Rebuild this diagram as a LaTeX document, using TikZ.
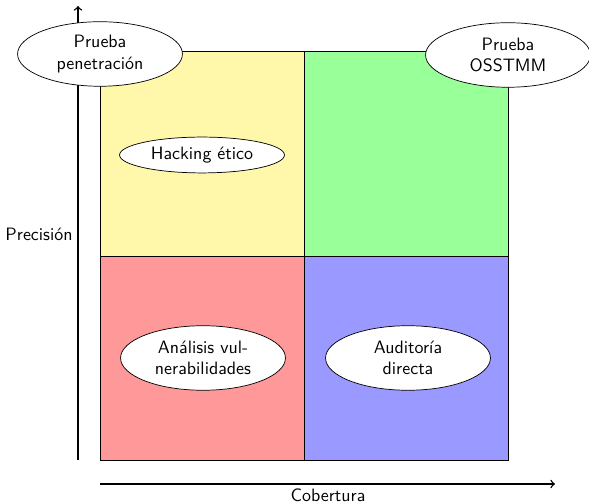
\documentclass[tikz,border=0pt]{standalone}
\usetikzlibrary{shapes.geometric}
\definecolor{qyellow}{RGB}{255,247,170}
\definecolor{qgreen}{RGB}{153,255,153}
\definecolor{qred}{RGB}{255,153,153}
\definecolor{qblue}{RGB}{153,153,255}
\tikzset{
  quad/.style={draw=black},
  oval/.style={ellipse, draw=black, fill=white, inner sep=0pt, align=center,
    font=\sffamily, minimum width=92pt},
  oval2/.style={oval, minimum height=36pt},
  oval1/.style={oval, minimum height=20pt},
  axis/.style={thick, ->},
  lbl/.style={font=\sffamily}
}
\begin{document}
\begin{tikzpicture}[x=0.5579pt, y=-0.5579pt]
\useasboundingbox (0,0) rectangle (589,504);
% quadrants
\draw[quad, fill=qyellow] (100,51) rectangle (304,256);
\draw[quad, fill=qgreen] (304,51) rectangle (508,256);
\draw[quad, fill=qred] (100,256) rectangle (304,460);
\draw[quad, fill=qblue] (304,256) rectangle (508,460);
% axes
\coordinate (ybot) at (78,460);
\coordinate (ytop) at (78,6);
\coordinate (xl) at (100,484);
\coordinate (xr) at (555,484);
\draw[axis] (ybot) -- (ytop);
\draw[axis] (xl) -- (xr);
\node[lbl] (prec) at (39,234) {Precisión};
\node[lbl] (cob) at (328,495) {Cobertura};
% ellipses
\node[oval2] (pen) at (100,54) {Prueba\\penetración};
\node[oval2] (oss) at (508,55) {Prueba\\OSSTMM};
\node[oval1] (hack) at (202,155) {Hacking ético};
\node[oval2] (vul) at (203,358) {Análisis vul-\\nerabilidades};
\node[oval2] (aud) at (408,358) {Auditoría\\directa};
\end{tikzpicture}
\end{document}
